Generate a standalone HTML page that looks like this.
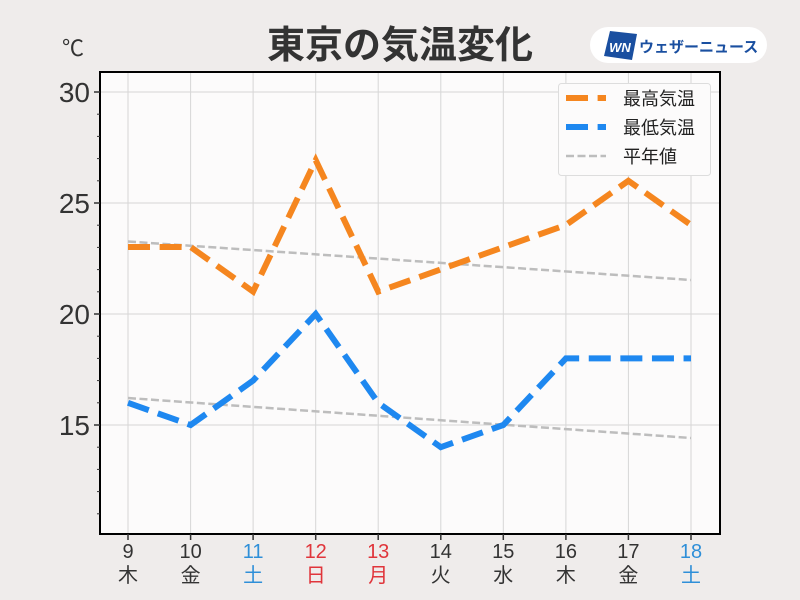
<!DOCTYPE html>
<html><head><meta charset="utf-8"><style>
body{margin:0;background:#efeceb;}
svg{display:block;font-family:"Liberation Sans","Noto Sans CJK JP",sans-serif;}
</style></head><body>
<svg width="800" height="600" viewBox="0 0 800 600">
<rect width="800" height="600" fill="#efeceb"/>
<rect x="100" y="72" width="620" height="462" fill="#fcfbfb"/>
<g stroke="#d6d6d6" stroke-width="1">
<line x1="128" y1="72" x2="128" y2="534"/><line x1="190.6" y1="72" x2="190.6" y2="534"/>
<line x1="253.1" y1="72" x2="253.1" y2="534"/><line x1="315.7" y1="72" x2="315.7" y2="534"/>
<line x1="378.2" y1="72" x2="378.2" y2="534"/><line x1="440.8" y1="72" x2="440.8" y2="534"/>
<line x1="503.3" y1="72" x2="503.3" y2="534"/><line x1="565.9" y1="72" x2="565.9" y2="534"/>
<line x1="628.4" y1="72" x2="628.4" y2="534"/><line x1="691" y1="72" x2="691" y2="534"/>
<line x1="100" y1="92" x2="720" y2="92"/><line x1="100" y1="203" x2="720" y2="203"/>
<line x1="100" y1="314" x2="720" y2="314"/><line x1="100" y1="425" x2="720" y2="425"/>
</g>
<g fill="none" stroke="#bdbdbd" stroke-width="2.5" stroke-dasharray="8 3.5">
<polyline points="128,241.5 691,280"/>
<polyline points="128,398 691,438"/>
</g>
<polyline fill="none" stroke="#f5861f" stroke-width="6" stroke-dasharray="22 9.6" points="128,247 190.6,247 253.1,291.6 315.7,160.2 378.2,291.6 440.8,269.4 503.3,247.2 565.9,225 628.4,180.8 691,225"/>
<polyline fill="none" stroke="#1e88f0" stroke-width="6" stroke-dasharray="22 9.6" points="128,402.8 190.6,425 253.1,380.6 315.7,314 378.2,402.8 440.8,447.2 503.3,425 565.9,358.4 628.4,358.4 691,358.4"/>
<rect x="100" y="72" width="620" height="462" fill="none" stroke="#000" stroke-width="2"/>
<g stroke="#333" stroke-width="1.5">
<line x1="94" y1="92" x2="100" y2="92"/><line x1="94" y1="203" x2="100" y2="203"/>
<line x1="94" y1="314" x2="100" y2="314"/><line x1="94" y1="425" x2="100" y2="425"/>
</g>
<g stroke="#333" stroke-width="1">
<line x1="97" y1="114.2" x2="100" y2="114.2"/><line x1="97" y1="136.4" x2="100" y2="136.4"/><line x1="97" y1="158.6" x2="100" y2="158.6"/><line x1="97" y1="180.8" x2="100" y2="180.8"/>
<line x1="97" y1="225.2" x2="100" y2="225.2"/><line x1="97" y1="247.4" x2="100" y2="247.4"/><line x1="97" y1="269.6" x2="100" y2="269.6"/><line x1="97" y1="291.8" x2="100" y2="291.8"/>
<line x1="97" y1="336.2" x2="100" y2="336.2"/><line x1="97" y1="358.4" x2="100" y2="358.4"/><line x1="97" y1="380.6" x2="100" y2="380.6"/><line x1="97" y1="402.8" x2="100" y2="402.8"/>
<line x1="97" y1="447.2" x2="100" y2="447.2"/><line x1="97" y1="469.4" x2="100" y2="469.4"/><line x1="97" y1="491.6" x2="100" y2="491.6"/><line x1="97" y1="513.8" x2="100" y2="513.8"/>
</g>
<g fill="#333" font-size="28" text-anchor="end">
<text x="90" y="102">30</text><text x="90" y="213">25</text><text x="90" y="324">20</text><text x="90" y="435">15</text>
</g>
<text x="62" y="56" font-size="22" fill="#333">℃</text>
<g stroke="#333" stroke-width="1.5">
<line x1="128" y1="534" x2="128" y2="540"/><line x1="190.6" y1="534" x2="190.6" y2="540"/><line x1="253.1" y1="534" x2="253.1" y2="540"/><line x1="315.7" y1="534" x2="315.7" y2="540"/><line x1="378.2" y1="534" x2="378.2" y2="540"/><line x1="440.8" y1="534" x2="440.8" y2="540"/><line x1="503.3" y1="534" x2="503.3" y2="540"/><line x1="565.9" y1="534" x2="565.9" y2="540"/><line x1="628.4" y1="534" x2="628.4" y2="540"/><line x1="691" y1="534" x2="691" y2="540"/>
</g>
<g font-size="20" text-anchor="middle" fill="#333">
<text x="128" y="558">9</text><text x="128" y="582">木</text>
<text x="190.6" y="558">10</text><text x="190.6" y="582">金</text>
<text x="253.1" y="558" fill="#2f8fd8">11</text><text x="253.1" y="582" fill="#2f8fd8">土</text>
<text x="315.7" y="558" fill="#e0353b">12</text><text x="315.7" y="582" fill="#e0353b">日</text>
<text x="378.2" y="558" fill="#e0353b">13</text><text x="378.2" y="582" fill="#e0353b">月</text>
<text x="440.8" y="558">14</text><text x="440.8" y="582">火</text>
<text x="503.3" y="558">15</text><text x="503.3" y="582">水</text>
<text x="565.9" y="558">16</text><text x="565.9" y="582">木</text>
<text x="628.4" y="558">17</text><text x="628.4" y="582">金</text>
<text x="691" y="558" fill="#2f8fd8">18</text><text x="691" y="582" fill="#2f8fd8">土</text>
</g>
<text x="400" y="58" font-size="38" font-weight="bold" text-anchor="middle" fill="#333">東京の気温変化</text>
<rect x="590" y="27" width="177" height="36" rx="18" fill="#fff"/>
<polygon points="610,31 637,34 632,60 604,56" fill="#1a4fa0"/>
<text x="620" y="52" font-size="13" font-weight="bold" font-style="italic" fill="#fff" text-anchor="middle">WN</text>
<text x="639" y="52" font-size="15" font-weight="bold" fill="#1a4fa0">ウェザーニュース</text>
<rect x="558.5" y="83.5" width="152" height="92" rx="3" fill="#fcfbfb" stroke="#ddd"/>
<line x1="566" y1="98" x2="606" y2="98" stroke="#f5861f" stroke-width="6" stroke-dasharray="22 9.6"/>
<line x1="566" y1="127" x2="606" y2="127" stroke="#1e88f0" stroke-width="6" stroke-dasharray="22 9.6"/>
<line x1="566" y1="156" x2="606" y2="156" stroke="#bdbdbd" stroke-width="2.5" stroke-dasharray="8 3.5"/>
<g font-size="18" fill="#222">
<text x="623" y="105">最高気温</text><text x="623" y="134">最低気温</text><text x="623" y="163">平年値</text>
</g>
</svg>
</body></html>
